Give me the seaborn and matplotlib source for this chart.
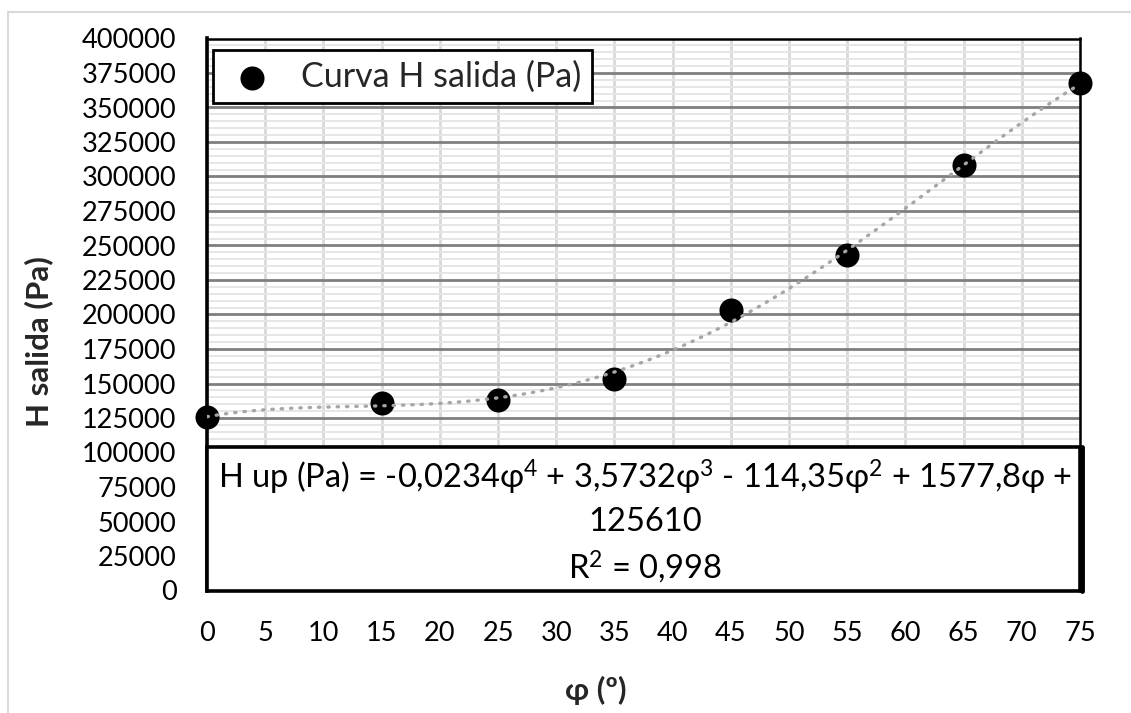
import matplotlib
matplotlib.use("Agg")
import matplotlib.pyplot as plt
import seaborn as sns
import pandas as pd
from matplotlib.ticker import MultipleLocator, NullFormatter
from matplotlib.patches import Rectangle
from matplotlib.lines import Line2D

# ---- data ----
phi = [0, 15, 25, 35, 45, 55, 65, 75]
h_salida = [125500, 136200, 138300, 152900, 202900, 242900, 308000, 367400]
series_label = "Curva H salida (Pa)"
x_label = "φ (º)"
y_label = "H salida (Pa)"
eq_line1 = "H up (Pa) = -0,0234φ$^{4}$ + 3,5732φ$^{3}$ - 114,35φ$^{2}$ + 1577,8φ +"
eq_line2 = "125610"
eq_line3 = "R$^{2}$ = 0,998"

df = pd.DataFrame({"phi": phi, "h": h_salida})

sns.set_style("white")
plt.rcParams['font.family'] = ['Lato', 'DejaVu Sans']
plt.rcParams['mathtext.fontset'] = 'custom'
plt.rcParams['mathtext.rm'] = 'Lato'
plt.rcParams['mathtext.it'] = 'Lato:italic'
plt.rcParams['mathtext.bf'] = 'Lato:bold'

W, H = 1131, 713
fig = plt.figure(figsize=(W / 100, H / 100), dpi=100)

def fx(px):
    return px / W

def fy(py):
    return 1 - py / H

L, R, T, B = 207, 1080, 38.5, 590.5
ax = fig.add_axes([fx(L), fy(B), fx(R) - fx(L), fy(T) - fy(B)])

sns.scatterplot(data=df, x="phi", y="h", ax=ax, color="black", s=300,
                edgecolor="black", linewidth=0, label=series_label, zorder=4,
                clip_on=False)
sns.regplot(data=df, x="phi", y="h", ax=ax, order=4, ci=None, scatter=False,
            color="#a6a6a6", truncate=True,
            line_kws={"linestyle": (0, (0.4, 2.4)), "lw": 2.4,
                      "dash_capstyle": "round", "zorder": 5})

ax.set_xlim(0, 75)
ax.set_ylim(0, 400000)
ax.xaxis.set_major_locator(MultipleLocator(5))
ax.yaxis.set_major_locator(MultipleLocator(25000))
ax.yaxis.set_minor_locator(MultipleLocator(5000))
ax.yaxis.set_minor_formatter(NullFormatter())
ax.set_axisbelow(True)
ax.grid(axis="x", which="major", color="#d9d9d9", lw=2)
ax.grid(axis="y", which="minor", color="#e6e6e6", lw=1.4)
ax.grid(axis="y", which="major", color="#7f7f7f", lw=2)
ax.tick_params(which="both", length=0)
ax.tick_params(axis="y", labelsize=19.5, pad=22, colors="black")
ax.tick_params(axis="x", labelsize=19.5, pad=22, colors="black")
ax.set_xlabel("")
ax.set_ylabel("")

for side in ["left", "top", "right"]:
    ax.spines[side].set_visible(True)
    ax.spines[side].set_color("black")
ax.spines["left"].set_linewidth(2.6)
ax.spines["top"].set_linewidth(1.8)
ax.spines["right"].set_linewidth(1.8)
ax.spines["bottom"].set_visible(False)

# equation box (trendline label)
box_top = (B - 447) / (B - T)
ax.add_patch(Rectangle((0, 0), 1, box_top, transform=ax.transAxes,
                       facecolor="white", edgecolor="black", lw=2.6,
                       zorder=6, clip_on=False))
ax.add_artist(Line2D([1.002, 1.002], [0, box_top], color="black", lw=3.5,
                     transform=ax.transAxes, zorder=7, clip_on=False))
cx = (L + R) / 2 + 2
for txt, py in [(eq_line1, 477), (eq_line2, 522), (eq_line3, 567)]:
    fig.text(fx(cx), fy(py), txt, ha="center", va="center", fontsize=23.5,
             color="black", zorder=7)

# legend
leg = ax.legend(loc="upper left", bbox_to_anchor=(fx(213), fy(50)),
                bbox_transform=fig.transFigure, borderaxespad=0,
                frameon=True, fancybox=False, framealpha=1,
                edgecolor="black", fontsize=24.5, handletextpad=0.6,
                borderpad=0.3, handlelength=1.7)
leg.get_frame().set_linewidth(2)
leg.set_zorder(10)

# axis titles
fig.text(fx(39), fy(342), y_label, rotation=90, ha="center", va="center",
         fontsize=22.5, fontweight="bold")
fig.text(fx(596), fy(690), x_label, ha="center", va="center",
         fontsize=22.5, fontweight="bold")

# outer chart border (top and left visible)
fig.add_artist(Line2D([fx(8), 1], [fy(12), fy(12)], color="#d9d9d9", lw=1.5,
                      transform=fig.transFigure))
fig.add_artist(Line2D([fx(8), fx(8)], [fy(12), 0], color="#d9d9d9", lw=1.5,
                      transform=fig.transFigure))

fig.savefig("out.png", dpi=100)
